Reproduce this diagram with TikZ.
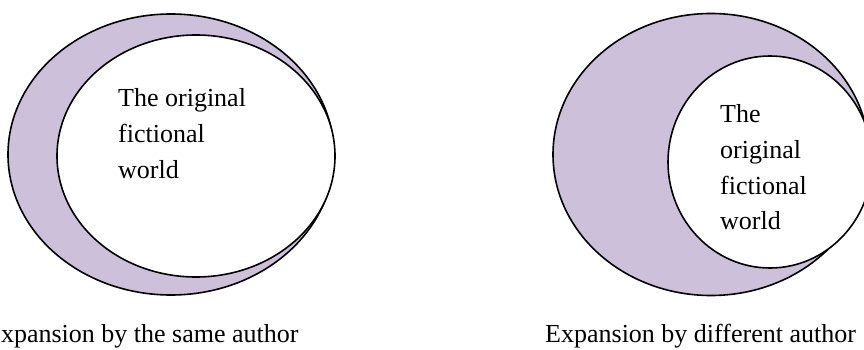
\documentclass[tikz,border=0pt]{standalone}
\usepackage{fontspec}
\setmainfont{Liberation Serif}
\usetikzlibrary{positioning}
\definecolor{lavender}{RGB}{204,192,218}

\begin{document}
\begin{tikzpicture}[
    x=1pt, y=-1pt,
    expansion/.style={
        draw=black,
        fill=lavender,
        line width=1.6pt
    },
    original/.style={
        draw=black,
        fill=white,
        line width=1.6pt
    },
    words/.style={
        font=\fontsize{26}{35.7}\selectfont,
        align=left,
        inner sep=0pt,
        anchor=north west
    }
]
\useasboundingbox (0,0) rectangle (864,350);

% same author
\draw[expansion] (171,154.5) ellipse [x radius=163, y radius=140.5];
\draw[original] (196,156) ellipse [x radius=139, y radius=121];
\node[words] (samewld) at (118,88.5) {The original\\fictional\\world};
\node[words, anchor=base west] (samecap) at (-15,342) {Expansion by the same author};

% different author
\draw[expansion] (711,154.5) ellipse [x radius=158, y radius=141];
\draw[original] (770,162) ellipse [x radius=102, y radius=106];
\node[words] (diffwld) at (720,104.5) {The\\original\\fictional\\world};
\node[words, anchor=base west] (diffcap) at (545,342) {Expansion by different author};
\end{tikzpicture}
\end{document}
